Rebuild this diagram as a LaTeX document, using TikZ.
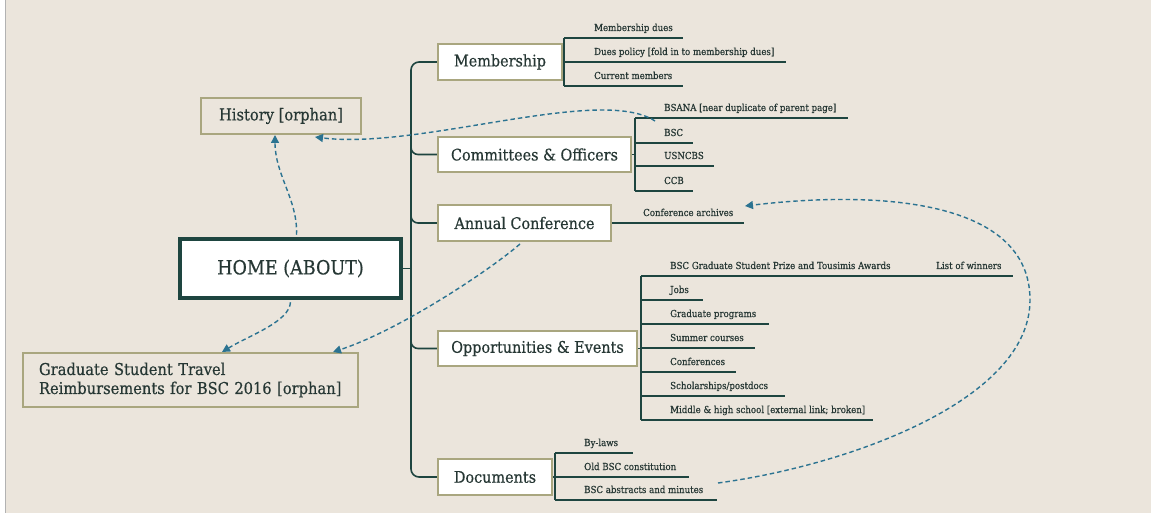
\documentclass[tikz,border=0pt]{standalone}
\usepackage{fontspec}
\setmainfont{DejaVu Serif Condensed}[FakeBold=0.45]
\usetikzlibrary{arrows.meta,calc}
\definecolor{bg}{HTML}{EBE5DC}
\definecolor{dk}{HTML}{1E4540}
\definecolor{txt}{HTML}{263734}
\definecolor{olive}{HTML}{A9A67F}
\definecolor{dashc}{HTML}{2B7391}
\tikzset{
  catbox/.style={draw=olive, line width=2.5pt, fill=white, text=txt, inner sep=0pt, font=\fontsize{16}{19}\selectfont},
  orphbox/.style={draw=olive, line width=2pt, fill=bg, text=txt, inner sep=0pt, font=\fontsize{16.3}{19}\selectfont},
  homebox/.style={draw=dk, line width=4.5pt, fill=white, text=txt, inner sep=0pt, font=\fontsize{19.5}{22}\selectfont},
  subtxt/.style={anchor=base west, inner sep=0pt, text=txt, font=\fontsize{9.6}{11}\selectfont},
  ln/.style={draw=dk, line width=1.6pt},
  dsh/.style={draw=dashc, line width=1.4pt, dash pattern=on 4.5pt off 3pt, -{Triangle[length=8pt,width=8pt]}},
}
\begin{document}
\begin{tikzpicture}[x=1pt,y=-1pt]
\useasboundingbox (0,0) rectangle (1151,513);
\fill[white] (0,0) rectangle (1151,513);
\fill[bg] (6,0) rectangle (1151,513);
\draw[gray!60, line width=1pt] (5.5,0) -- (5.5,513);

% main boxes
\node[homebox, minimum width=221pt, minimum height=59pt] (home) at (290.5,268.5) {HOME (ABOUT)};
\node[orphbox, minimum width=160pt, minimum height=36pt] (hist) at (281,116) {History [orphan]};
\node[orphbox, minimum height=54pt, text width=303pt, inner xsep=16pt, align=left] (grad) at (190.5,380) {Graduate Student Travel\\Reimbursements for BSC 2016 [orphan]};

\node[catbox, minimum width=124pt, minimum height=36pt] (mem) at (500,62) {Membership};
\node[catbox, minimum width=193pt, minimum height=35pt] (com) at (534.5,154.5) {Committees \& Officers};
\node[catbox, minimum width=173pt, minimum height=36pt] (ann) at (524.5,223) {Annual Conference};
\node[catbox, minimum width=199pt, minimum height=35pt] (opp) at (537.5,348.5) {Opportunities \& Events};
\node[catbox, minimum width=114pt, minimum height=36pt] (doc) at (495,477) {Documents};

% trunk
\coordinate (trunkx) at (411,0);
\draw[ln, rounded corners=8pt] (mem.west) -- (mem.west -| trunkx) -- (doc.west -| trunkx) -- (doc.west);
\draw[ln, rounded corners=7pt] ($(com.west -| trunkx)+(0,-10)$) -- (com.west -| trunkx) -- (com.west);
\draw[ln, rounded corners=7pt] ($(ann.west -| trunkx)+(0,-10)$) -- (ann.west -| trunkx) -- (ann.west);
\draw[ln, rounded corners=7pt] ($(opp.west -| trunkx)+(0,-10)$) -- (opp.west -| trunkx) -- (opp.west);
\draw[ln] (home.east) -- (home.east -| trunkx);

% Membership items
\draw[ln] (564,38) -- (564,86);
\draw[ln] (564,38) -- (683,38);
\draw[ln] (mem.east) -- (786,62);
\draw[ln] (564,86) -- (683,86);
\node[subtxt] (m1) at (594,31) {Membership dues};
\node[subtxt] (m2) at (594,55) {Dues policy [fold in to membership dues]};
\node[subtxt] (m3) at (594,79) {Current members};

% Committees items
\draw[ln] (635,118) -- (635,191);
\draw[ln] (com.east) -- (635,154.5);
\draw[ln] (635,118) -- (848,118);
\draw[ln] (635,143) -- (693,143);
\draw[ln] (635,166) -- (714,166);
\draw[ln] (635,191) -- (693,191);
\node[subtxt] (c1) at (664,111) {BSANA [near duplicate of parent page]};
\node[subtxt] (c2) at (664,136) {BSC};
\node[subtxt] (c3) at (664,159) {USNCBS};
\node[subtxt] (c4) at (664,184) {CCB};

% Annual conference items
\draw[ln] (ann.east) -- (744,223);
\node[subtxt] (a1) at (643,216) {Conference archives};

% Opportunities items
\draw[ln] (641,276) -- (641,420);
\draw[ln] (opp.east) -- (641,348.5);
\draw[ln] (641,276) -- (1013,276);
\draw[ln] (641,300) -- (703,300);
\draw[ln] (641,324) -- (769,324);
\draw[ln] (641,348) -- (755,348);
\draw[ln] (641,372) -- (736,372);
\draw[ln] (641,396) -- (785,396);
\draw[ln] (641,420) -- (873,420);
\node[subtxt] (o1) at (670,269) {BSC Graduate Student Prize and Tousimis Awards};
\node[subtxt] (o1b) at (936,269) {List of winners};
\node[subtxt] (o2) at (670,293) {Jobs};
\node[subtxt] (o3) at (670,317) {Graduate programs};
\node[subtxt] (o4) at (670,341) {Summer courses};
\node[subtxt] (o5) at (670,365) {Conferences};
\node[subtxt] (o6) at (670,389) {Scholarships/postdocs};
\node[subtxt] (o7) at (670,413) {Middle \& high school [external link; broken]};

% Documents items
\draw[ln] (555,453) -- (555,500);
\draw[ln] (doc.east) -- (555,477);
\draw[ln] (555,453) -- (633,453);
\draw[ln] (555,477) -- (689,477);
\draw[ln] (555,500) -- (717,500);
\node[subtxt] (d1) at (584,446) {By-laws};
\node[subtxt] (d2) at (584,470) {Old BSC constitution};
\node[subtxt] (d3) at (584,493) {BSC abstracts and minutes};

% dashed links
\coordinate (bsanaend) at (655,121);
\coordinate (histin) at (315,137);
\coordinate (gradin1) at (222,352);
\coordinate (gradin2) at (333,352);
\coordinate (docout) at (718,483);
\coordinate (arcin) at (745,206);
\coordinate (annout) at (520,244);
\draw[dsh] ($(home.north)+(6,-2)$) .. controls (298,200) and (275,175) .. ($(hist.south)+(-6,0)$);
\draw[dsh] (bsanaend) .. controls (600,85) and (420,150) .. (histin);
\draw[dsh] ($(home.south)+(0,2)$) .. controls (289,322) and (250,335) .. (gradin1);
\draw[dsh] (annout) .. controls (490,270) and (400,330) .. (gradin2);
\draw[dsh] (docout) .. controls (850,465) and (1030,400) .. (1030,300) .. controls (1030,200) and (880,190) .. (arcin);
\end{tikzpicture}
\end{document}
